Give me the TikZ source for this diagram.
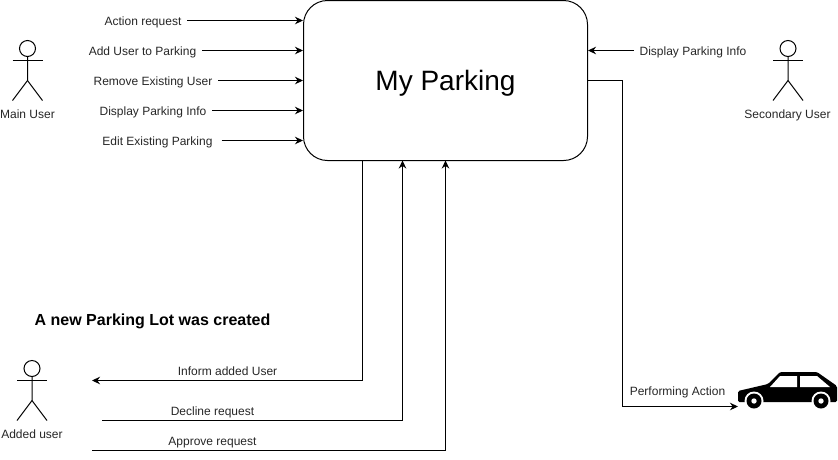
\documentclass[tikz,border=0pt]{standalone}
\usepackage{fontspec}
\setmainfont{Liberation Sans}
\usetikzlibrary{arrows.meta}
\tikzstyle{block} = [rectangle, draw, rounded corners=24pt, minimum width=284pt, minimum height=160pt, text height=20pt, text depth=0pt, font=\fontsize{28}{32}\selectfont]
\tikzstyle{tag} = [inner sep=6pt, outer sep=0, text height=10pt, text depth=0pt, font=\fontsize{12}{14}\selectfont, text=black!85]
\tikzstyle{line} = [draw,->,>={Stealth[length=8pt,width=7.5pt]}]
\newcommand{\stickman}[2]{
  \draw (#1,#2-12) circle (8);
  \draw (#1-15,#2) -- (#1+15,#2);
  \draw (#1,#2-4) -- (#1,#2+20) -- (#1-15,#2+40);
  \draw (#1,#2+20) -- (#1+15,#2+40);
}
\begin{document}
\begin{tikzpicture}[x=1pt, y=-1pt, line width=1pt]
\useasboundingbox (0,0) rectangle (838,459);

\node [block] (park) at (445.5,80.5) {My Parking};

% main user
\stickman{27.5}{60.5}
\node [tag] (main) at (27.5,113) {Main User};
\node [tag] (a1) at (143,20.5) {Action request};
\node [tag] (a2) at (142.5,50.5) {Add User to Parking};
\node [tag] (a3) at (153,80.5) {Remove Existing User};
\node [tag] (a4) at (153,110.5) {Display Parking Info};
\node [tag] (a5) at (157.5,140.5) {Edit Existing Parking};

\path [line] (a1.east) -- (a1.east -| park.west);
\path [line] (a2.east) -- (a2.east -| park.west);
\path [line] (a3.east) -- (a3.east -| park.west);
\path [line] (a4.east) -- (a4.east -| park.west);
\path [line] ([xshift=3pt]a5.east) -- (a5.east -| park.west);

% secondary user
\stickman{788}{60.5}
\node [tag] (second) at (787.5,113) {Secondary User};
\node [tag] (info) at (693,50.5) {Display Parking Info};
\path [line] (info.west) -- (info.west -| park.east);

% added user
\node [tag, font=\fontsize{16}{18}\selectfont\bfseries, text=black] (title) at (152.5,320) {A new Parking Lot was created};
\stickman{32}{380.5}
\node [tag] (added) at (32,433) {Added user};

\coordinate (inform) at (92,380.5);
\coordinate (decline) at (102,420.5);
\coordinate (approve) at (92,450.5);
\node [tag] (t1) at (227.5,370) {Inform added User};
\node [tag] (t2) at (212.5,410) {Decline request};
\node [tag] (t3) at (212.5,440) {Approve request};

\coordinate (p1) at (362.5,160.5);
\coordinate (p2) at (402.5,160.5);
\coordinate (p3) at (445.5,160.5);
\path [line] (p1) |- (inform);
\path [line] (decline) -| (p2);
\path [line] (approve) -| (p3);

% car
\coordinate (c0) at (587.5,80.5);
\coordinate (c1) at (622.5,406.5);
\coordinate (c2) at (738,406.5);
\path [line] (c0) -- (c0 -| c1) -- (c1) -- (c2);
\node [tag] (act) at (677.5,390) {Performing Action};

\fill [rounded corners=1.5pt] (738,391) -- (768,384) -- (780,372) -- (817,372) -- (837,386) -- (837,402) -- (738,402) -- cycle;
\fill [white] (770,387) -- (780,376) -- (797,376) -- (797,387) -- cycle;
\fill [white] (800,376) -- (817,376) -- (830,387) -- (800,387) -- cycle;
\foreach \wx in {754,821} {
  \fill [white] (\wx,401) circle (9.5);
  \fill (\wx,401) circle (7.5);
  \fill [white] (\wx,401) circle (2.7);
}

\end{tikzpicture}
\end{document}
